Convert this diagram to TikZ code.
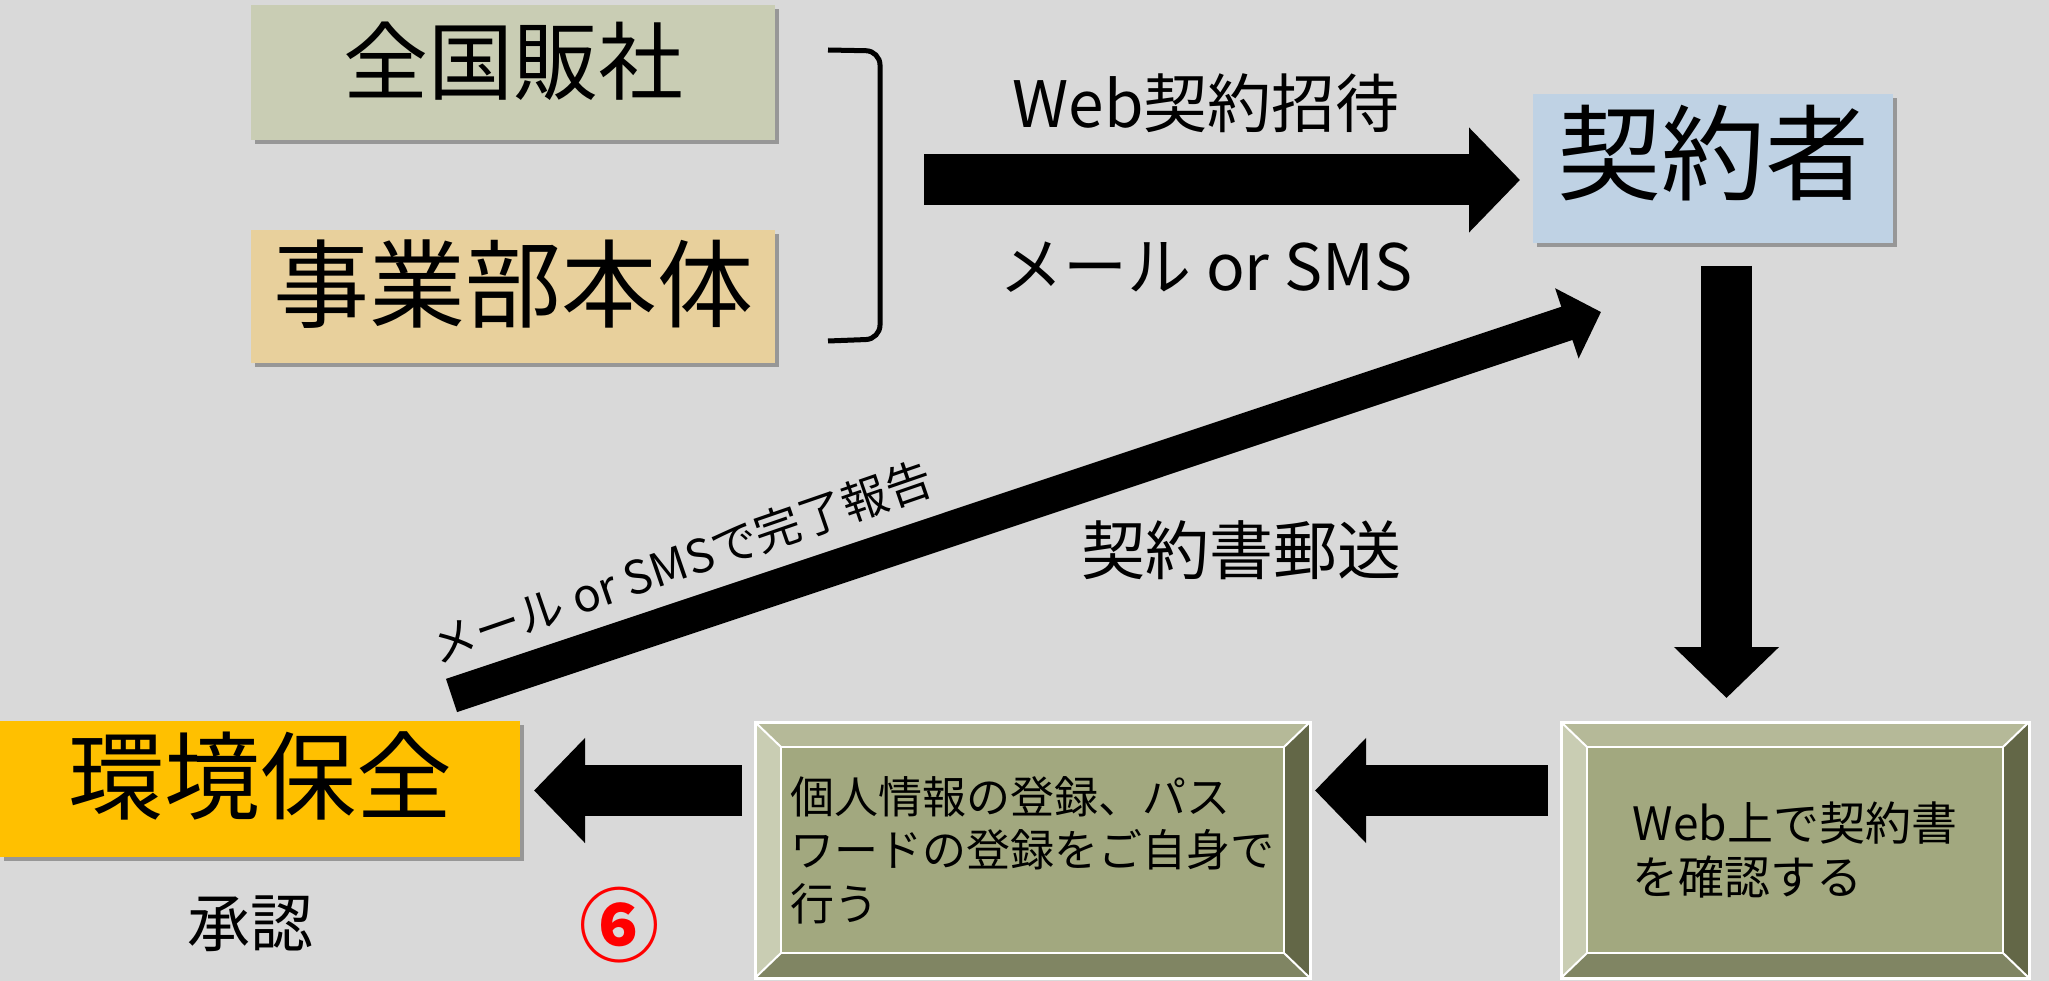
\documentclass[tikz,border=0pt]{standalone}
\usepackage{fontspec}
\setmainfont{Noto Sans CJK JP}
\usetikzlibrary{arrows.meta,shadows}
\definecolor{bg}{HTML}{D9D9D9}
\definecolor{zsfill}{HTML}{C9CDB4}
\definecolor{jgfill}{HTML}{E8D09C}
\definecolor{kyfill}{HTML}{BFD2E4}
\definecolor{khfill}{HTML}{FFC000}
\definecolor{bvface}{HTML}{A2A87F}
\definecolor{bvtop}{HTML}{B5B998}
\definecolor{bvleft}{HTML}{C9CDB3}
\definecolor{bvright}{HTML}{636747}
\definecolor{bvbottom}{HTML}{808563}
\tikzset{
  fs/.style={font=\fontsize{#1}{#1}\selectfont},
  cjk/.style={fs=#1, inner sep=0pt, text height={0.88*#1pt}, text depth={0.12*#1pt}},
  colbox/.style={rectangle, inner sep=0pt,
    drop shadow={shadow xshift=4pt, shadow yshift=-4pt, fill=black, opacity=0.3}},
  fatarrow/.style={draw=black, line width=51pt, -{Triangle[width=102pt,length=51pt]}},
  thinarrow/.style={draw=black, line width=35pt, -{Triangle[width=72pt,length=36pt]}},
  bevelbox/.style={rectangle, fill=bvface, draw=white, line width=3pt, inner sep=0pt,
    align=left, font=\fontsize{44}{53.5}\selectfont, minimum height=256pt,
    path picture={
      \def\pp{path picture bounding box}
      \fill[bvtop] (\pp.north west) -- (\pp.north east) -- ([xshift=-26pt,yshift=-25pt]\pp.north east) -- ([xshift=26pt,yshift=-25pt]\pp.north west) -- cycle;
      \fill[bvleft] (\pp.north west) -- (\pp.south west) -- ([xshift=26pt,yshift=25pt]\pp.south west) -- ([xshift=26pt,yshift=-25pt]\pp.north west) -- cycle;
      \fill[bvright] (\pp.north east) -- (\pp.south east) -- ([xshift=-26pt,yshift=25pt]\pp.south east) -- ([xshift=-26pt,yshift=-25pt]\pp.north east) -- cycle;
      \fill[bvbottom] (\pp.south west) -- (\pp.south east) -- ([xshift=-26pt,yshift=25pt]\pp.south east) -- ([xshift=26pt,yshift=25pt]\pp.south west) -- cycle;
      \draw[white, line width=2.5pt] ([xshift=26pt,yshift=-25pt]\pp.north west) rectangle ([xshift=-26pt,yshift=25pt]\pp.south east);
      \draw[white, line width=2pt] (\pp.north west) -- ([xshift=26pt,yshift=-25pt]\pp.north west)
        (\pp.north east) -- ([xshift=-26pt,yshift=-25pt]\pp.north east)
        (\pp.south west) -- ([xshift=26pt,yshift=25pt]\pp.south west)
        (\pp.south east) -- ([xshift=-26pt,yshift=25pt]\pp.south east);
    }},
}
\begin{document}
\begin{tikzpicture}[x=1pt,y=-1pt]
\useasboundingbox (0,0) rectangle (2049,981);
\fill[bg] (0,0) rectangle (2049,981);

% coloured boxes (text depth enlarged to lift the text above the box centre)
\node[colbox, fill=zsfill, minimum width=524pt, minimum height=135pt, fs=85, text height=74.8pt, text depth=33.2pt] (zs) at (513,72.5) {全国販社};
\node[colbox, fill=jgfill, minimum width=524pt, minimum height=133pt, fs=96, text height=84.5pt, text depth=37.5pt] (jg) at (513,296.5) {事業部本体};
\node[colbox, fill=kyfill, minimum width=360pt, minimum height=149pt, fs=104, text height=91.5pt, text depth=42.5pt] (ky) at (1713,168.5) {契約者};
\node[colbox, fill=khfill, minimum width=520pt, minimum height=136pt, fs=96, text height=84.5pt, text depth=37.5pt] (kh) at (260,789) {環境保全};

% bracket
\draw[line width=5pt, rounded corners=14pt] (828,50) -- (880,51) -- (880,339) -- (828,341);

% bevel boxes
\node[bevelbox, minimum width=555pt] (b1) at (1032.5,850) {個人情報の登録、パス\\ワードの登録をご自身で\\行う};
\node[bevelbox, minimum width=468pt, font=\fontsize{46}{54}\selectfont] (b2) at (1795,850) {Web上で契約書\\を確認する};

% labels
\node[cjk=64] (l1) at (1206,103.5) {Web契約招待};
\node[cjk=64] (l2) at (1206,266) {メール or SMS};
\node[cjk=64] (l3) at (1241,550) {契約書郵送};
\node[cjk=63] (l4) at (250,923) {承認};
\node[cjk=46, rotate=19] (l5) at (681,562) {メール or SMSで完了報告};
\node[cjk=80, text=red] (l6) at (619,925) {\textbf{⑥}};

% arrow end points
\coordinate (a1s) at (924,180);
\coordinate (a1e) at (1520,180);
\coordinate (a2s) at (1726.5,266);
\coordinate (a2e) at (1726.5,698);
\coordinate (a3s) at (1547.5,790.5);
\coordinate (a3e) at (1315,790.5);
\coordinate (a4s) at (742,790.5);
\coordinate (a4e) at (534,790.5);
\coordinate (a5s) at (451.5,695.5);
\coordinate (a5e) at (1601,312);

\draw[fatarrow] (a1s) -- (a1e);
\draw[fatarrow] (a2s) -- (a2e);
\draw[fatarrow] (a3s) -- (a3e);
\draw[fatarrow] (a4s) -- (a4e);
\draw[thinarrow] (a5s) -- (a5e);
\end{tikzpicture}
\end{document}
